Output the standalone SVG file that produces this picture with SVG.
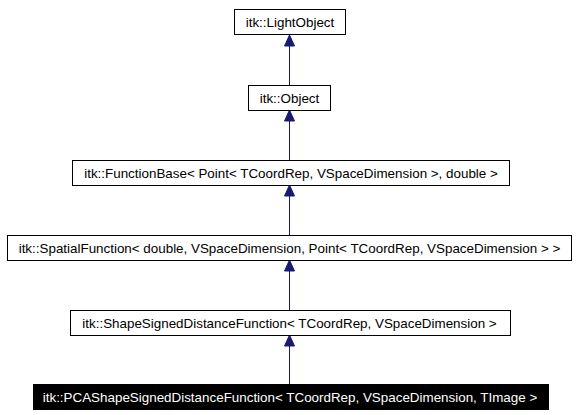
<svg xmlns="http://www.w3.org/2000/svg" width="578" height="415" viewBox="0 0 578 415">
<style>
.box{fill:#fff;stroke:#000;stroke-width:1}
.t{font-family:"Liberation Sans",Arial,sans-serif;font-size:13.4px;text-anchor:middle;fill:#000}
.edge{stroke:#191970;stroke-width:1;fill:none}
.head{fill:#191970;stroke:#191970}
</style>
<rect width="578" height="415" fill="#fff"/>
<g id="connectors">
<line class="edge" x1="289.5" y1="85" x2="289.5" y2="35"/>
<path class="head" d="M289.5,35 L294.5,46 L284.5,46 Z"/>
<line class="edge" x1="289.5" y1="160" x2="289.5" y2="110"/>
<path class="head" d="M289.5,110 L294.5,121 L284.5,121 Z"/>
<line class="edge" x1="289.5" y1="235" x2="289.5" y2="185"/>
<path class="head" d="M289.5,185 L294.5,196 L284.5,196 Z"/>
<line class="edge" x1="289.5" y1="310" x2="289.5" y2="260"/>
<path class="head" d="M289.5,260 L294.5,271 L284.5,271 Z"/>
<line class="edge" x1="289.5" y1="384" x2="289.5" y2="335"/>
<path class="head" d="M289.5,335 L294.5,346 L284.5,346 Z"/>
</g>
<g id="LightObject">
<rect class="box" x="234.5" y="9.5" width="111" height="25"/>
<text class="t" x="290" y="27">itk::LightObject</text>
</g>
<g id="Object">
<rect class="box" x="248.5" y="85.5" width="82" height="25"/>
<text class="t" x="289.5" y="103">itk::Object</text>
</g>
<g id="FunctionBase">
<rect class="box" x="72.5" y="160.5" width="437" height="25"/>
<text class="t" x="291" y="178">itk::FunctionBase&lt; Point&lt; TCoordRep, VSpaceDimension &gt;, double &gt;</text>
</g>
<g id="SpatialFunction">
<rect class="box" x="7.5" y="235.5" width="564" height="25"/>
<text class="t" x="289.5" y="253">itk::SpatialFunction&lt; double, VSpaceDimension, Point&lt; TCoordRep, VSpaceDimension &gt; &gt;</text>
</g>
<g id="ShapeSignedDistanceFunction">
<rect class="box" x="70.5" y="310.5" width="440" height="25"/>
<text class="t" x="289.5" y="328">itk::ShapeSignedDistanceFunction&lt; TCoordRep, VSpaceDimension &gt;</text>
</g>
<g id="PCAShapeSignedDistanceFunction">
<rect x="33" y="384" width="516" height="26" fill="#000"/>
<text class="t" x="290" y="402" style="fill:#fff">itk::PCAShapeSignedDistanceFunction&lt; TCoordRep, VSpaceDimension, TImage &gt;</text>
</g>
</svg>
